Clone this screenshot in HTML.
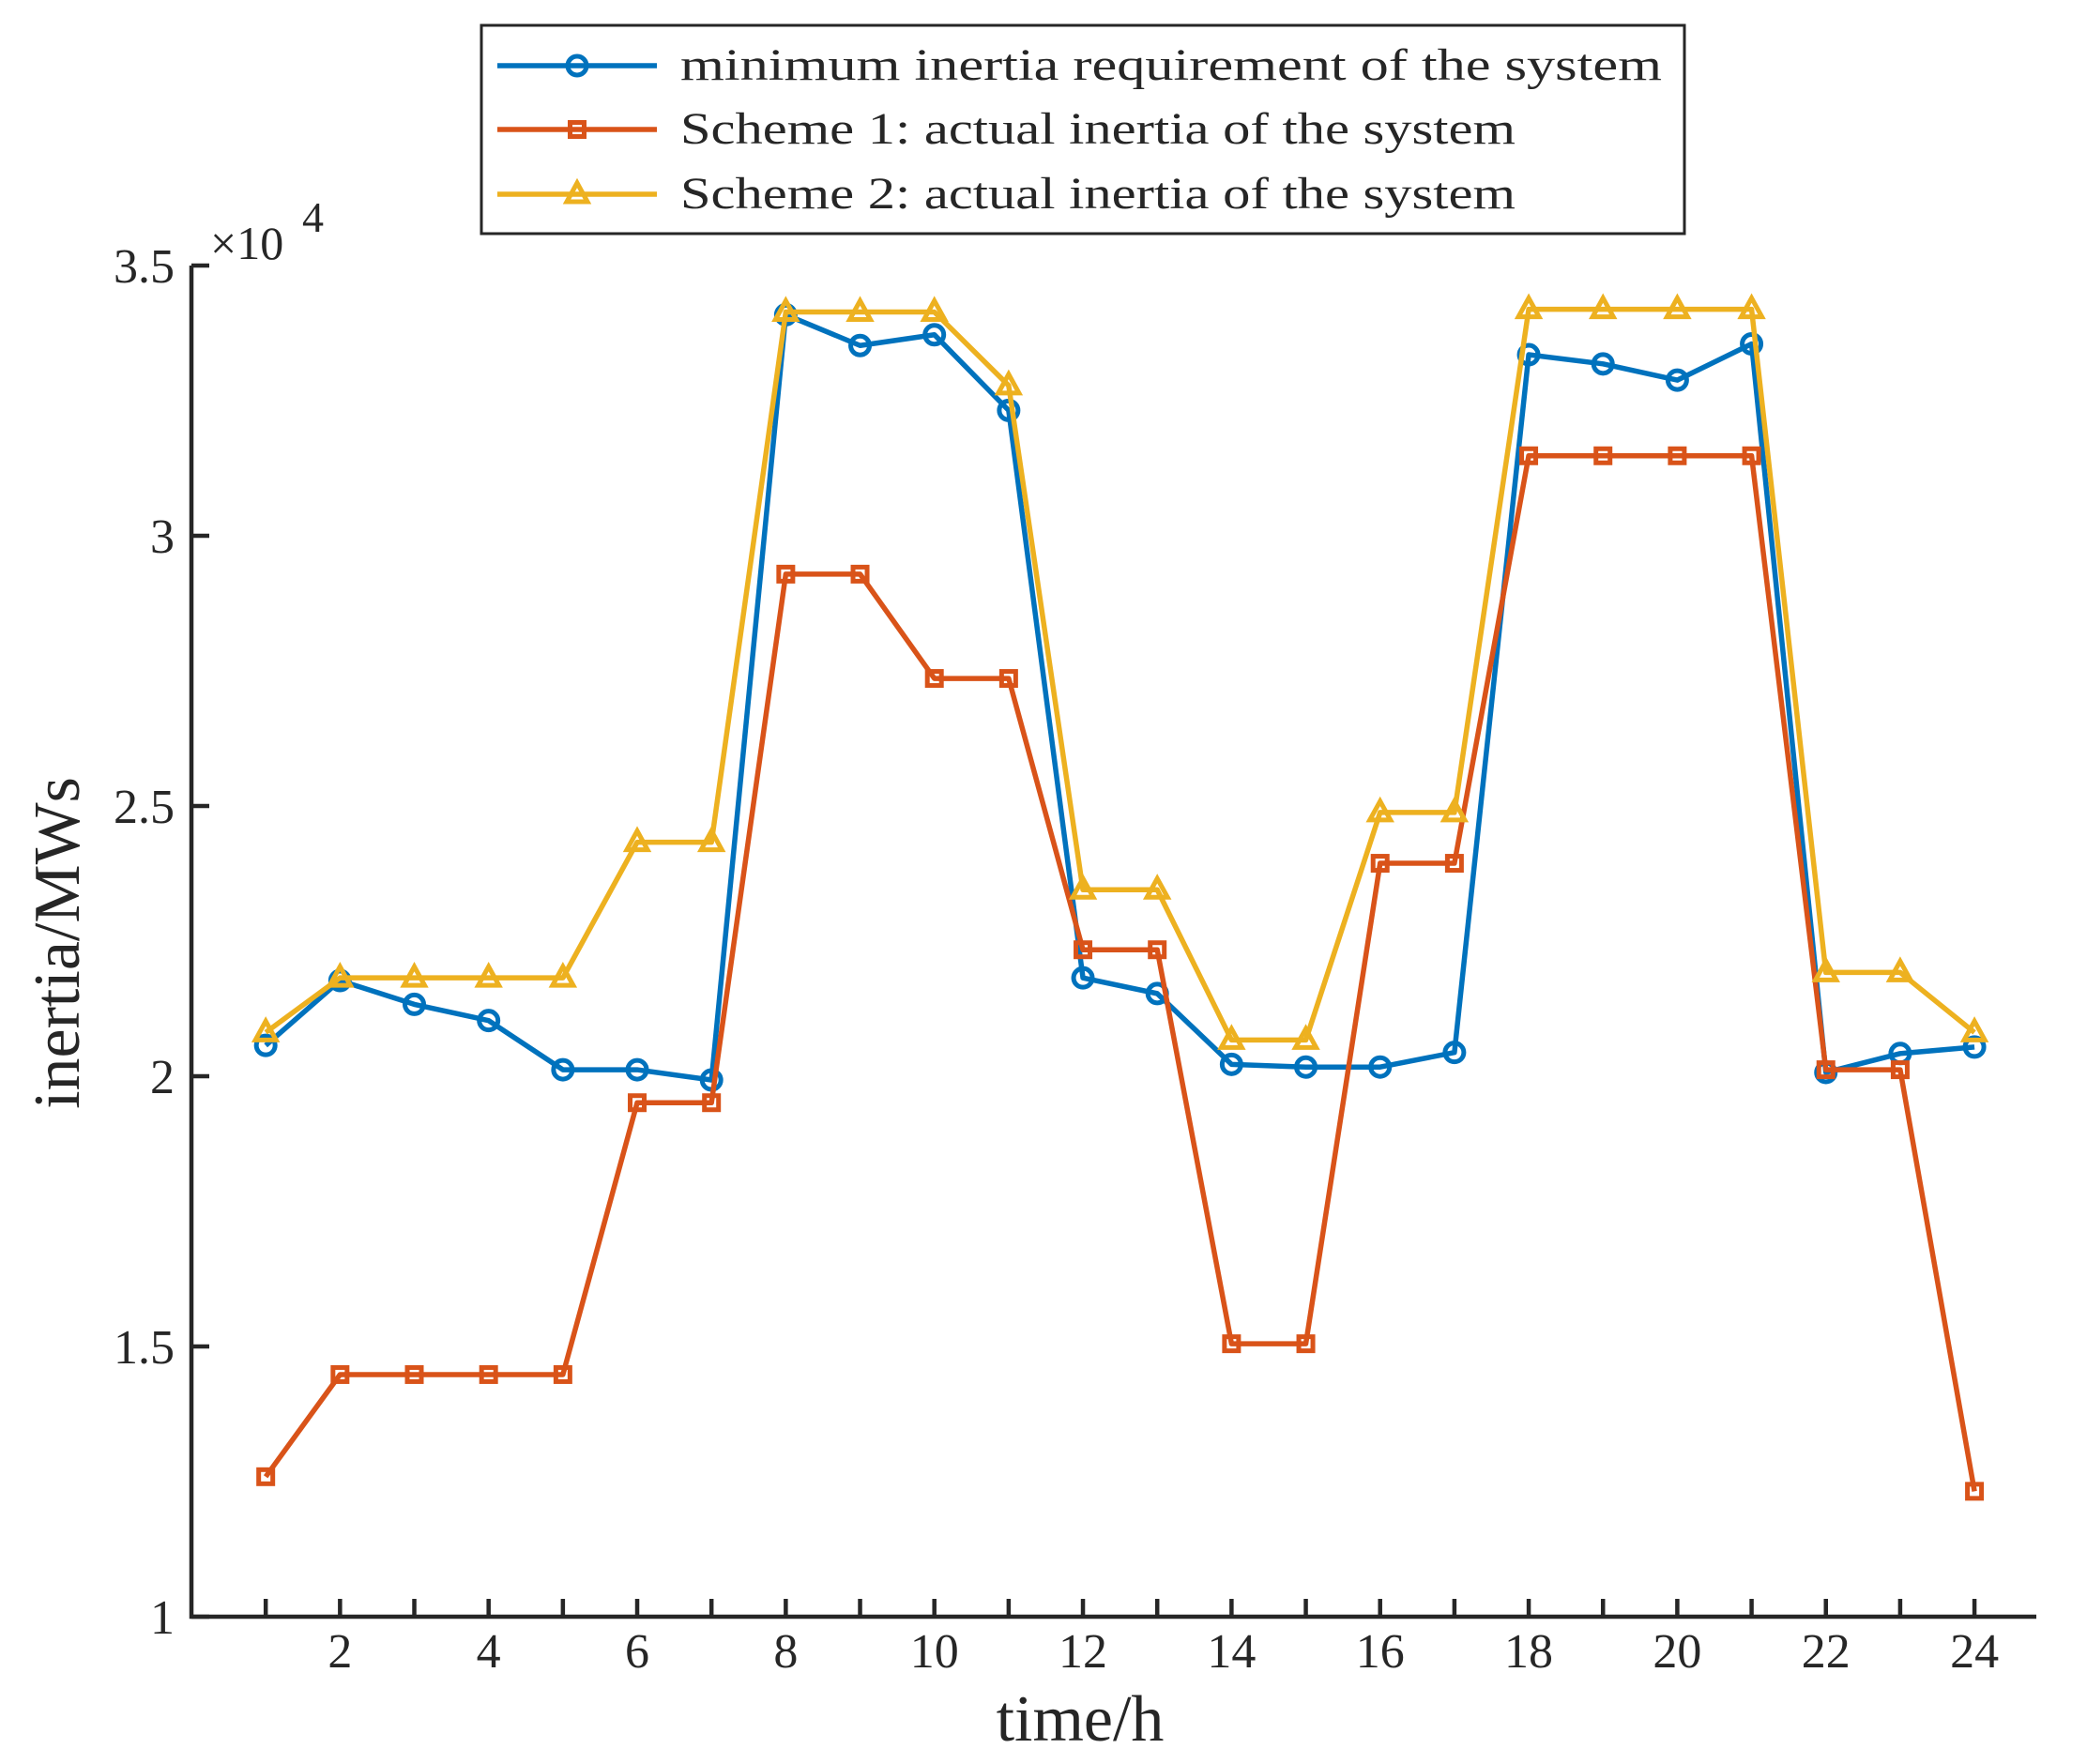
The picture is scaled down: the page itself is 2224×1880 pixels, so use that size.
<!DOCTYPE html>
<html><head><meta charset="utf-8"><style>
html,body{margin:0;padding:0;background:#fff}
svg{display:block}
text{font-family:"Liberation Serif",serif;fill:#262626}
</style></head><body>
<svg id="chart" width="2224" height="1880" viewBox="0 0 2224 1880" xmlns="http://www.w3.org/2000/svg">
<g id="axes"></g>
<g id="series"></g>
<g id="legend">
  <rect x="513" y="27" width="1282" height="222" fill="#fff" stroke="#262626" stroke-width="3"/>
</g>
</svg>
<script>
const hours = [1,2,3,4,5,6,7,8,9,10,11,12,13,14,15,16,17,18,19,20,21,22,23,24];
const minRequirement = [2.057,2.177,2.133,2.103,2.012,2.012,1.993,3.409,3.352,3.372,3.232,2.182,2.153,2.022,2.017,2.017,2.044,3.335,3.318,3.288,3.355,2.007,2.042,2.054];
const scheme1 = [1.259,1.448,1.448,1.448,1.448,1.951,1.951,2.929,2.929,2.736,2.736,2.234,2.234,1.505,1.505,2.394,2.394,3.148,3.148,3.148,3.148,2.012,2.012,1.232];
const scheme2 = [2.081,2.182,2.182,2.182,2.182,2.433,2.433,3.414,3.414,3.414,3.278,2.345,2.345,2.067,2.067,2.488,2.488,3.419,3.419,3.419,3.419,2.192,2.192,2.081];
const yTicks = [1,1.5,2,2.5,3,3.5];
const yTickLabels = ["1","1.5","2","2.5","3","3.5"];
const xTicks = [1,2,3,4,5,6,7,8,9,10,11,12,13,14,15,16,17,18,19,20,21,22,23,24];
const xTickLabels = ["2","4","6","8","10","12","14","16","18","20","22","24"];
const seriesNames = ["minimum inertia requirement of the system","Scheme 1: actual inertia of the system","Scheme 2: actual inertia of the system"];

const NS="http://www.w3.org/2000/svg";
const X0=204, XR=2170, PX=79.17;
const Y1=1723, PY=576;
const xs = v => X0 + v*PX;
const ys = v => Y1 - (v-1)*PY;
function mk(tag, attrs, parent){const e=document.createElementNS(NS,tag);for(const k in attrs)e.setAttribute(k,attrs[k]);parent.appendChild(e);return e;}
const axes=document.getElementById('axes');
const ser=document.getElementById('series');
const leg=document.getElementById('legend');

let a=mk('path',{d:`M${X0} ${ys(3.5)} V${Y1} H${XR}`,fill:'none',stroke:'#262626','stroke-width':4.5},axes);


yTicks.forEach((v,i)=>{
  const t=mk('line',{x1:X0,x2:X0+19,y1:ys(v),y2:ys(v),stroke:'#262626','stroke-width':4.5},axes);
  
  
  const l=mk('text',{x:186,y:ys(v)+18,'text-anchor':'end','font-size':52},axes);
  l.textContent=yTickLabels[i];
  
  
});
xTicks.forEach(v=>{
  const t=mk('line',{x1:xs(v),x2:xs(v),y1:Y1,y2:Y1-19,stroke:'#262626','stroke-width':4.5},axes);
  
  
});
xTickLabels.forEach(s=>{
  const l=mk('text',{x:xs(+s),y:1777,'text-anchor':'middle','font-size':52},axes);
  l.textContent=s;
  
  
});
let e=mk('text',{x:224,y:276,'font-size':50},axes);e.textContent='×10';


e=mk('text',{x:322,y:247,'font-size':46},axes);e.textContent='4';


e=mk('text',{x:1151,y:1855,'text-anchor':'middle','font-size':70},axes);e.textContent='time/h';


e=mk('text',{x:0,y:0,'text-anchor':'middle','font-size':70,transform:'translate(84 1005) rotate(-90)'},axes);e.textContent='inertia/MWs';



const colors=['#0072BD','#D95319','#EDB120'];
function marker(kind,x,y,c,parent){
  let m;
  if(kind===0) m=mk('circle',{cx:x,cy:y,r:10,fill:'none',stroke:c,'stroke-width':5},parent);
  else if(kind===1) m=mk('rect',{x:x-7.5,y:y-7.5,width:15,height:15,fill:'none',stroke:c,'stroke-width':5},parent);
  else m=mk('path',{d:`M${x} ${y-12} L${x+11} ${y+8} L${x-11} ${y+8} Z`,fill:'none',stroke:c,'stroke-width':5},parent);
  return m;
}
[minRequirement,scheme1,scheme2].forEach((vals,k)=>{
  const g=mk('g',{},ser);
  
  
  const p=mk('polyline',{points:vals.map((v,i)=>xs(hours[i])+','+ys(v)).join(' '),fill:'none',stroke:colors[k],'stroke-width':5.5,'stroke-linejoin':'round'},g);
  
  
  vals.forEach((v,i)=>{
    const m=marker(k,xs(hours[i]),ys(v),colors[k],g);
    
    
  });
});
const rowsY=[70,138,207];
seriesNames.forEach((n,k)=>{
  const g=mk('g',{},leg);
  
  
  mk('line',{x1:530,x2:700,y1:rowsY[k],y2:rowsY[k],stroke:colors[k],'stroke-width':5.5},g);
  marker(k,615,rowsY[k],colors[k],g);
  const t=mk('text',{x:725,y:rowsY[k]+15,'font-size':48,textLength:[1046,890,890][k],lengthAdjust:'spacingAndGlyphs'},g);
  t.textContent=n;
});
</script>
</body></html>
